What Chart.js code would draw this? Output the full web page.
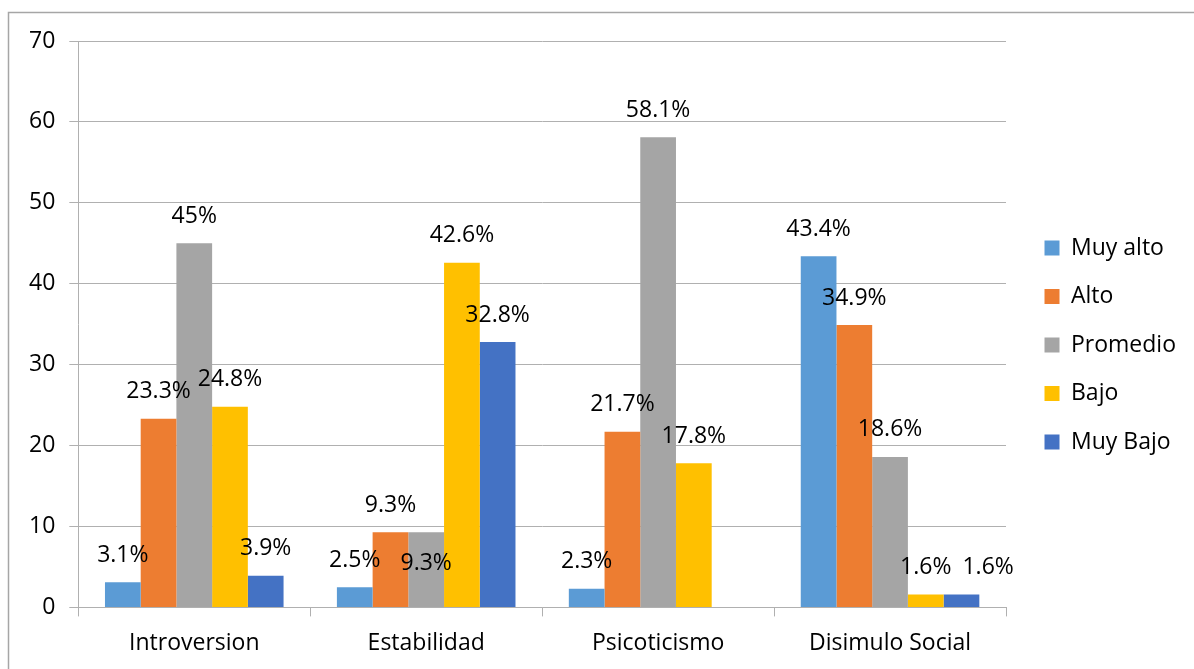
<!DOCTYPE html>
<html>
<head>
<meta charset="utf-8">
<script src="https://cdn.jsdelivr.net/npm/chart.js@4.4.1/dist/chart.umd.min.js"></script>
<style>
  html, body { margin: 0; padding: 0; background: #fff; }
  #wrap { width: 1194px; height: 669px; }
</style>
</head>
<body>
<div id="wrap"><canvas id="c" width="1194" height="669"></canvas></div>
<script>
const categories = ["Introversion", "Estabilidad", "Psicoticismo", "Disimulo Social"];
const seriesNames = ["Muy alto", "Alto", "Promedio", "Bajo", "Muy Bajo"];
const muyAlto  = [3.1, 2.5, 2.3, 43.4];
const alto     = [23.3, 9.3, 21.7, 34.9];
const promedio = [45, 9.3, 58.1, 18.6];
const bajo     = [24.8, 42.6, 17.8, 1.6];
const muyBajo  = [3.9, 32.8, null, 1.6];
const colors = ["#5B9BD5", "#ED7D31", "#A5A5A5", "#FFC000", "#4472C4"];
const yTicks = [0, 10, 20, 30, 40, 50, 60, 70];

const FONT = "'Open Sans', 'Noto Sans', sans-serif";
const FS = 23;
const GRID = '#b0b0b0';
const values = [muyAlto, alto, promedio, bajo, muyBajo];

const frame = {
  id: 'frame',
  beforeDraw(chart) {
    const ctx = chart.ctx;
    ctx.save();
    ctx.fillStyle = '#fff';
    ctx.fillRect(0, 0, chart.width, chart.height);
    ctx.strokeStyle = '#a6a6a6';
    ctx.lineWidth = 1.5;
    ctx.strokeRect(8.5, 12.5, chart.width + 20, chart.height + 20);
    ctx.restore();
  }
};

const legendShift = {
  id: 'legendShift',
  afterLayout(chart) {
    const L = chart.legend;
    if (!L) return;
    const dx = 13, dy = -10.5;
    L.left += dx; L.right += dx;
    L.top += dy; L.bottom += dy;
  }
};

const dataLabels = {
  id: 'dataLabels',
  afterDatasetsDraw(chart) {
    const ctx = chart.ctx;
    ctx.save();
    ctx.font = FS + "px " + FONT;
    ctx.fillStyle = '#000';
    ctx.textAlign = 'center';
    ctx.textBaseline = 'middle';
    const placed = [];
    const bars = [];
    chart.data.datasets.forEach((ds, di) => {
      chart.getDatasetMeta(di).data.forEach((el, i) => {
        if (ds.data[i] !== null && ds.data[i] !== undefined) {
          bars.push({ di, i, l: el.x - el.width / 2, r: el.x + el.width / 2, t: el.y, b: el.base });
        }
      });
    });
    const h = FS;
    const n = chart.data.labels.length;
    for (let i = 0; i < n; i++) {
      chart.data.datasets.forEach((ds, di) => {
        const v = ds.data[i];
        if (v === null || v === undefined) return;
        const el = chart.getDatasetMeta(di).data[i];
        const txt = v + '%';
        const w = ctx.measureText(txt).width;
        const hitLabel = (x, y) => placed.find(p => Math.abs(p.x - x) < (p.w + w) / 2 && Math.abs(p.y - y) < h);
        const hitBar = (x, y) => bars.some(b => !(b.di === di && b.i === i) &&
          x + w / 2 > b.l && x - w / 2 < b.r && y + h / 2 > b.t && y - h / 2 < b.b);
        let x = el.x, y = el.y - 27;
        const p = hitLabel(x, y);
        if (p) {
          const xs = p.x + (p.w + w) / 2 + 11;
          if (!hitLabel(xs, y) && !hitBar(xs, y)) {
            x = xs;
          } else {
            y = el.y + 31;
          }
        }
        placed.push({ x, y, w });
        ctx.fillText(txt, x, y);
      });
    }
    ctx.restore();
  }
};

new Chart(document.getElementById('c'), {
  type: 'bar',
  data: {
    labels: categories,
    datasets: seriesNames.map((name, i) => ({
      label: name,
      data: values[i],
      backgroundColor: colors[i],
      borderWidth: 0,
      barPercentage: 1.0,
      categoryPercentage: 0.77
    }))
  },
  options: {
    responsive: false,
    animation: false,
    devicePixelRatio: 1,
    layout: { padding: { left: 15, top: 41, right: 21, bottom: -1 } },
    plugins: {
      legend: {
        position: 'right',
        labels: {
          boxWidth: 15,
          boxHeight: 15,
          padding: 25.5,
          color: '#000',
          font: { family: FONT, size: FS }
        }
      },
      tooltip: { enabled: false }
    },
    scales: {
      x: {
        grid: { display: true, drawOnChartArea: false, drawTicks: true, tickLength: 9, color: GRID, offset: true },
        border: { color: GRID },
        ticks: { color: '#000', font: { family: FONT, size: FS }, padding: 13 }
      },
      y: {
        min: 0, max: 70,
        afterBuildTicks(scale) { scale.ticks = yTicks.map(v => ({ value: v })); },
        grid: { color: GRID, tickLength: 9 },
        border: { color: GRID },
        ticks: { color: '#000', font: { family: FONT, size: FS }, padding: 14 }
      }
    }
  },
  plugins: [frame, legendShift, dataLabels]
});
</script>
</body>
</html>
